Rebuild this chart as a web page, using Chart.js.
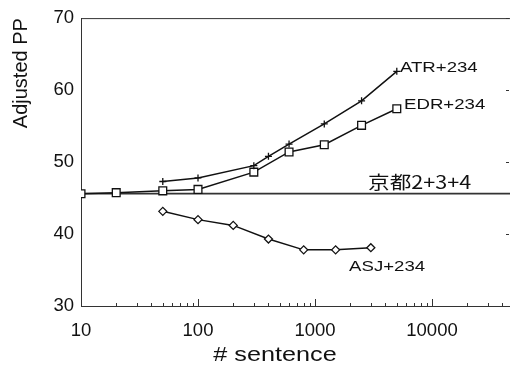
<!DOCTYPE html>
<html>
<head>
<meta charset="utf-8">
<script src="https://cdn.jsdelivr.net/npm/chart.js@4"></script>
<style>html,body{margin:0;padding:0;background:#fff;}canvas{display:block;}</style>
</head>
<body>
<canvas id="c" width="510" height="368"></canvas>
<script>
// ---- data ----
const atrX = [50, 100, 300, 400, 600, 1200, 2500, 5000];
const atrY = [47.3, 47.8, 49.5, 50.8, 52.5, 55.3, 58.5, 62.6];
const edrX = [10, 20, 50, 100, 300, 600, 1200, 2500, 5000];
const edrY = [45.6, 45.75, 46.0, 46.2, 48.6, 51.4, 52.4, 55.1, 57.4];
const asjX = [50, 100, 200, 400, 800, 1500, 3000];
const asjY = [43.15, 42.0, 41.2, 39.3, 37.8, 37.8, 38.1];
const kyotoLevel = 45.6;
const xRange = [10, 46400];
const yRange = [30, 70];
const yTicks = [30, 40, 50, 60, 70];
const xMajor = [10, 100, 1000, 10000];
const xMinor = [20,30,40,50,60,70,80,90,200,300,400,500,600,700,800,900,2000,3000,4000,5000,6000,7000,8000,9000,20000,30000,40000];
const seriesNames = ['ATR+234', 'EDR+234', 'ASJ+234', '京都2+3+4'];
const xTitle = '# sentence';
const yTitle = 'Adjusted PP';
// label anchors (data units)
const labelX = [5320, 5770, 1955, 2840];
const labelY = [63.15, 58.0, 35.4, 47.25];

const pts = (xs, ys) => xs.map((x, i) => ({x, y: ys[i]}));
const INK = '#111';
const FONT = '"Liberation Sans", Arial, sans-serif';

function stretchedText(ctx, t, x, y, font, align) {
  ctx.save();
  ctx.translate(x, y);
  ctx.scale(1.2, 1);
  ctx.font = font;
  ctx.textAlign = align;
  ctx.fillText(t, 0, 0);
  ctx.restore();
}

const tickPlugin = {
  id: 'ticksAndLabels',
  afterDraw(chart) {
    const ctx = chart.ctx, xs = chart.scales.x, ys = chart.scales.y, a = chart.chartArea;
    ctx.save();
    ctx.strokeStyle = '#333';
    ctx.lineWidth = 1;
    // top border
    ctx.beginPath(); ctx.moveTo(a.left, a.top + 0.5); ctx.lineTo(a.right, a.top + 0.5); ctx.stroke();
    // inward x ticks
    ctx.beginPath();
    xMajor.forEach(v => { const p = Math.round(xs.getPixelForValue(v)) + 0.5; ctx.moveTo(p, a.bottom); ctx.lineTo(p, a.bottom - 7); });
    xMinor.forEach(v => { const p = Math.round(xs.getPixelForValue(v)) + 0.5; ctx.moveTo(p, a.bottom); ctx.lineTo(p, a.bottom - 3); });
    // right side ticks
    yTicks.forEach(v => { const p = Math.round(ys.getPixelForValue(v)) + 0.5; ctx.moveTo(a.right - 1, p); ctx.lineTo(a.right - 4, p); });
    ctx.stroke();
    ctx.fillStyle = INK;
    ctx.textBaseline = 'middle';
    // series labels (stretched horizontally like the reference)
    seriesNames.forEach((t, i) => {
      const px = xs.getPixelForValue(labelX[i]), py = ys.getPixelForValue(labelY[i]);
      const f = i === 3 ? '18px "Noto Sans CJK JP", "Liberation Sans", sans-serif' : '15.5px ' + FONT;
      stretchedText(ctx, t, px, py, f, 'left');
    });
    // x axis title
    stretchedText(ctx, xTitle, 275, 355, '21px ' + FONT, 'center');
    ctx.restore();
  }
};

new Chart(document.getElementById('c'), {
  type: 'line',
  data: {
    datasets: [
      { label: seriesNames[3], data: pts(xRange, [kyotoLevel, kyotoLevel]), borderColor: '#333', borderWidth: 1.7, pointRadius: 0, order: 4 },
      { label: seriesNames[0], data: pts(atrX, atrY), borderColor: INK, borderWidth: 1.5, pointStyle: 'cross', pointRadius: 3.5, pointBorderWidth: 1.3, pointBorderColor: INK, order: 1 },
      { label: seriesNames[1], data: pts(edrX, edrY), borderColor: INK, borderWidth: 1.5, pointStyle: 'rect', pointRadius: 5.5, pointBorderWidth: 1.3, pointBorderColor: INK, pointBackgroundColor: '#fff', order: 2 },
      { label: seriesNames[2], data: pts(asjX, asjY), borderColor: INK, borderWidth: 1.5, pointStyle: 'rectRot', pointRadius: 4, pointBorderWidth: 1.3, pointBorderColor: INK, pointBackgroundColor: '#fff', order: 3 }
    ]
  },
  options: {
    responsive: false,
    animation: false,
    layout: { autoPadding: false, padding: { top: 14, right: 0, left: 0, bottom: 0 } },
    plugins: { legend: { display: false }, tooltip: { enabled: false } },
    elements: { line: { tension: 0 } },
    scales: {
      x: {
        type: 'logarithmic', min: xRange[0], max: xRange[1],
        afterFit: s => { s.height = 62; s.paddingRight = 0; s.paddingLeft = 0; },
        grid: { display: true, drawOnChartArea: false, drawTicks: false },
        border: { display: true, color: '#333', width: 1 },
        ticks: {
          autoSkip: false, maxRotation: 0, padding: 14, color: INK,
          font: { family: FONT, size: 18.5 },
          callback: v => xMajor.includes(v) ? String(v) : ''
        },
        title: { display: false }
      },
      y: {
        min: yRange[0], max: yRange[1],
        afterFit: s => { s.width = 81; },
        afterBuildTicks: s => { s.ticks = yTicks.map(v => ({value: v})); },
        grid: { display: true, drawOnChartArea: false, drawTicks: false },
        border: { display: true, color: '#333', width: 1 },
        ticks: { padding: 7, color: INK, font: { family: FONT, size: 18.5 } },
        title: { display: true, text: yTitle, align: 'end', color: INK, font: { family: FONT, size: 20 }, padding: { top: 9, bottom: 0 } }
      }
    }
  },
  plugins: [tickPlugin]
});
</script>
</body>
</html>
